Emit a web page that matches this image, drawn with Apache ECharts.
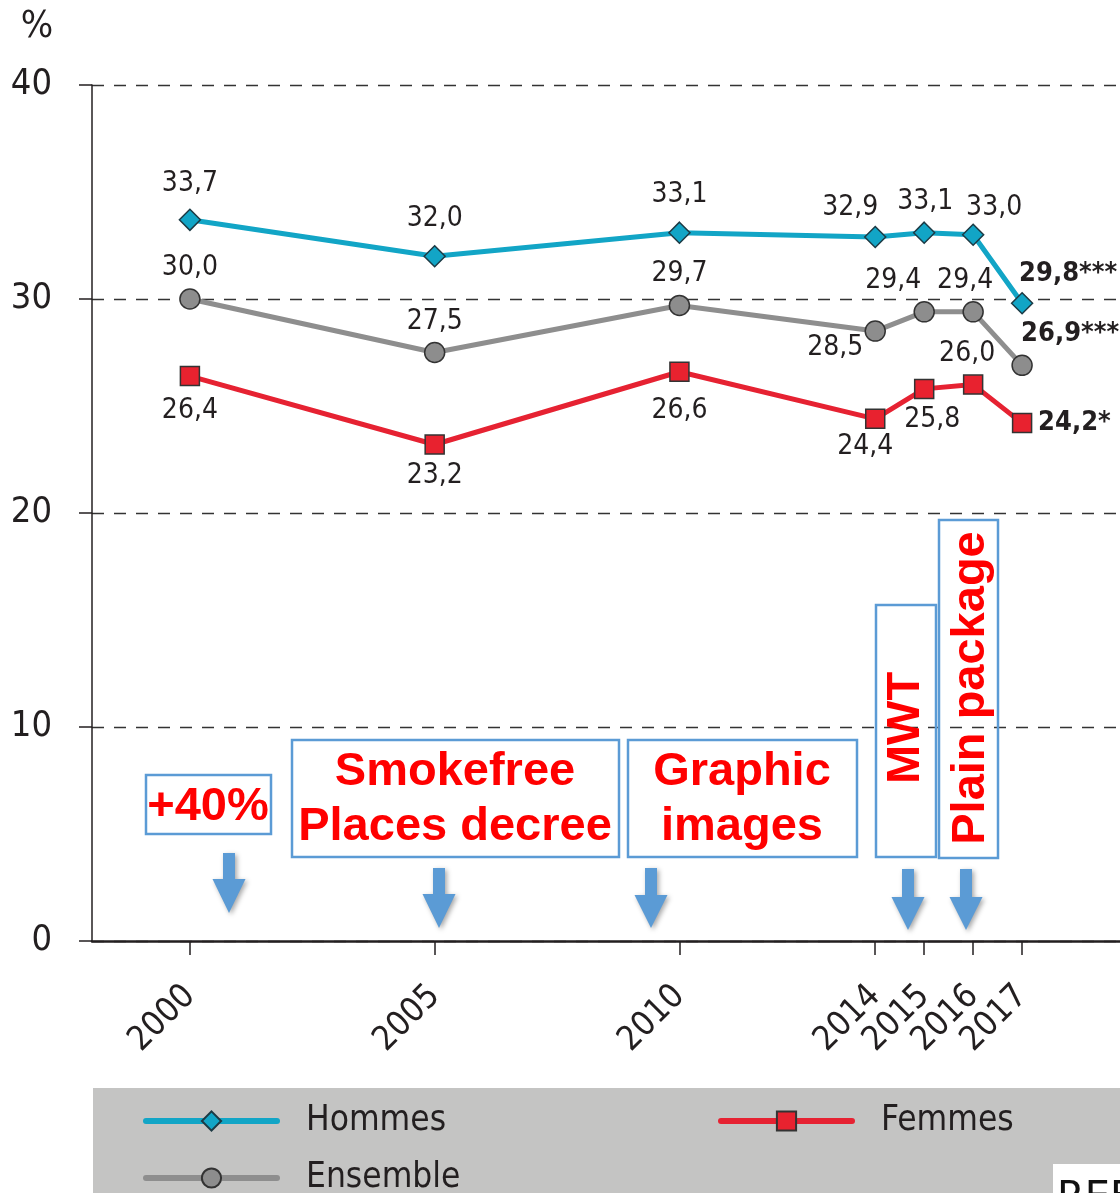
<!DOCTYPE html>
<html><head><meta charset="utf-8">
<script src="https://cdn.jsdelivr.net/npm/echarts@6/dist/echarts.min.js"></script>
<style>html,body{margin:0;padding:0;background:#fff}#c{width:1120px;height:1193px}</style>
</head><body><div id="c"></div>
<script>
// ---- data ----
const years = [2000, 2005, 2010, 2014, 2015, 2016, 2017];
const hommes = [33.7, 32.0, 33.1, 32.9, 33.1, 33.0, 29.8];
const ensemble = [30.0, 27.5, 29.7, 28.5, 29.4, 29.4, 26.9];
const femmes = [26.4, 23.2, 26.6, 24.4, 25.8, 26.0, 24.2];
const hommesSig = ['', '', '', '', '', '', '***'];
const ensembleSig = ['', '', '', '', '', '', '***'];
const femmesSig = ['', '', '', '', '', '', '*'];
const seriesNames = ['Hommes', 'Ensemble', 'Femmes'];

// ---- label placement (style) ----
const hommesOff = [[0,-36],[0,-37],[0,-38],[-25,-29],[1,-31],[21,-27],[-3,-29,'left']];
const ensembleOff = [[0,-31],[0,-31],[0,-32],[-40,17],[-31,-31],[-8,-31],[-1,-31,'left']];
const femmesOff = [[0,35],[0,31],[0,39],[-10,28],[8,31],[-6,-31],[16,0,'left']];

const NARROW = '"DejaVu Sans Condensed","Liberation Sans Narrow",sans-serif';
const TXT = '#231f20';
function fmt(v){ return v.toFixed(1).replace('.', ','); }
function mkData(vals, sig, offs){
  return vals.map((v, i) => ({
    value: [years[i], v],
    label: {
      show: true, position: 'inside',
      offset: [offs[i][0], offs[i][1]],
      align: offs[i][2] || 'center', verticalAlign: 'middle',
      fontWeight: sig[i] ? 'bold' : 'normal',
      fontSize: sig[i] ? 27 : 28,
      formatter: fmt(v) + sig[i]
    }
  }));
}
const labelBase = { fontFamily: NARROW, fontSize: 28, color: TXT };

const chart = echarts.init(document.getElementById('c'), null, {renderer: 'canvas'});

function arrow(cx, top, neck, tip){
  return {
    type: 'polygon', z: 50,
    shape: { points: [[cx-6,top],[cx+6,top],[cx+6,neck],[cx+16.5,neck],[cx,tip],[cx-16.5,neck],[cx-6,neck]] },
    style: { fill: '#5b9bd5', shadowBlur: 5, shadowColor: 'rgba(0,0,0,0.35)', shadowOffsetX: 2, shadowOffsetY: 2 }
  };
}
function box(x, y, w, h){
  return { type: 'rect', z: 50, shape: {x, y, width: w, height: h},
    style: { fill: 'rgba(0,0,0,0)', stroke: '#5b9bd5', lineWidth: 2.5 } };
}
function redText(t, x, y, rot){
  return { type: 'text', z: 51, x, y, rotation: rot || 0,
    style: { text: t, textAlign: 'center', textVerticalAlign: 'middle',
      font: 'bold 47px "Liberation Sans", Arial, sans-serif', fill: '#ff0000', lineHeight: 55 } };
}

const option = {
  animation: false,
  backgroundColor: '#ffffff',
  grid: { left: 92, top: 85, width: 1029, height: 856, containLabel: false },
  xAxis: {
    type: 'value', min: 1998, max: 2019,
    axisLine: { show: true, onZero: false, lineStyle: { color: TXT, width: 2.5 } },
    axisTick: { show: true, customValues: years, length: 14, lineStyle: { color: TXT, width: 1.5 } },
    axisLabel: { show: true, customValues: years, rotate: 45, margin: 50,
      showMinLabel: true, showMaxLabel: true, hideOverlap: false,
      fontFamily: NARROW, fontSize: 34, color: TXT, formatter: v => String(v) },
    splitLine: { show: false }
  },
  yAxis: {
    type: 'value', min: 0, max: 40, interval: 10,
    axisLine: { show: true, lineStyle: { color: TXT, width: 1.5 } },
    axisTick: { show: true, length: 13, lineStyle: { color: TXT, width: 1.5 } },
    axisLabel: { margin: 40, fontFamily: NARROW, fontSize: 36, color: TXT },
    splitLine: { show: true, lineStyle: { color: '#333', width: 1.3, type: [12, 10] } }
  },
  legend: [
    { data: [seriesNames[0]], left: 138, top: 1096 },
    { data: [seriesNames[2]], left: 713, top: 1096 },
    { data: [seriesNames[1]], left: 138, top: 1153 }
  ].map(l => Object.assign(l, {
    orient: 'horizontal', itemWidth: 131, itemHeight: 24, selectedMode: false,
    lineStyle: { width: 6, cap: 'round' },
    textStyle: { fontFamily: NARROW, fontSize: 35, lineHeight: 40, color: TXT, padding: [0, 0, 0, 24] }
  })),
  graphic: [
    { type: 'rect', z: -1, shape: {x: 93, y: 1088, width: 1030, height: 110}, style: {fill: '#c4c4c3'} },
    { type: 'rect', z: 1, shape: {x: 1053, y: 1164, width: 70, height: 40}, style: {fill: '#ffffff'} },
    { type: 'text', z: 2, x: 1057, y: 1180, style: { text: 'REF', font: '40px "DejaVu Sans", sans-serif', fill: '#111', textVerticalAlign: 'top' } },
    { type: 'text', x: 37, y: 27, style: { text: '%', font: '38px ' + NARROW, fill: TXT, textAlign: 'center', textVerticalAlign: 'middle' } },
    box(146, 775, 125, 59), redText('+40%', 208, 807),
    box(292, 740, 327, 117), redText('Smokefree\nPlaces decree', 455, 800),
    box(628, 740, 229, 117), redText('Graphic\nimages', 742, 800),
    box(876, 605, 60, 252), redText('MWT', 906, 728, Math.PI/2),
    box(939, 520, 59, 338), redText('Plain package', 971, 688, Math.PI/2),
    arrow(229, 853, 879, 913),
    arrow(439, 868, 894, 928),
    arrow(651, 868, 895, 928),
    arrow(908, 869, 897, 930),
    arrow(966, 869, 897, 930)
  ],
  series: [
    { name: seriesNames[0], type: 'line', z: 5,
      data: mkData(hommes, hommesSig, hommesOff),
      symbol: 'diamond', symbolSize: 21,
      lineStyle: { color: '#12a5c6', width: 5 },
      itemStyle: { color: '#12a5c6', borderColor: '#1d3a44', borderWidth: 1.5 },
      label: labelBase },
    { name: seriesNames[1], type: 'line', z: 4,
      data: mkData(ensemble, ensembleSig, ensembleOff),
      symbol: 'circle', symbolSize: 20,
      lineStyle: { color: '#8e8e8e', width: 5 },
      itemStyle: { color: '#8d8d8d', borderColor: '#333', borderWidth: 1.5 },
      label: labelBase },
    { name: seriesNames[2], type: 'line', z: 3,
      data: mkData(femmes, femmesSig, femmesOff),
      symbol: 'rect', symbolSize: 19,
      lineStyle: { color: '#e62232', width: 5 },
      itemStyle: { color: '#e8222f', borderColor: '#333', borderWidth: 1.5 },
      label: labelBase }
  ]
};
chart.setOption(option);
</script>
</body></html>
